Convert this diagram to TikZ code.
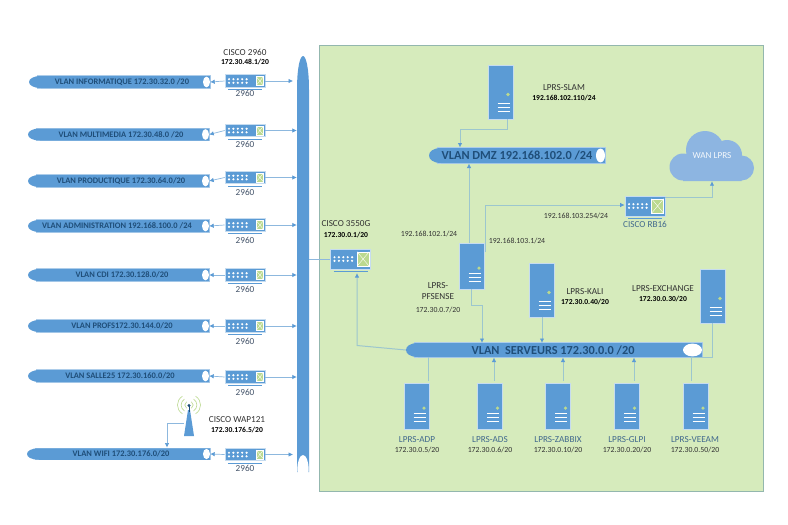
\documentclass[tikz,border=0pt]{standalone}
\usepackage{fontspec}
\setmainfont{Carlito}
\usetikzlibrary{arrows.meta,calc}
\definecolor{blu}{HTML}{5B9BD5}
\definecolor{dkb}{HTML}{1F4E79}
\definecolor{slat}{HTML}{44546A}
\definecolor{pan}{HTML}{D6EBBC}
\definecolor{panb}{HTML}{93B7AE}
\definecolor{lnk}{HTML}{9CC6CE}
\definecolor{lnkt}{HTML}{8DB8DE}
\definecolor{cld}{HTML}{8DB5E1}
\definecolor{grn}{HTML}{BBD98F}
\tikzset{
 x=1pt,y=-1pt,
 tip/.style={-{Latex[length=4.5pt,width=4.5pt,color=blu]}},
 lan/.style={draw=lnk,line width=1pt},
 lanthin/.style={draw=lnkt,line width=.7pt},
 lab/.style={font=\fontsize{7.8}{8}\selectfont,text=black!80,inner sep=0pt},
 labb/.style={font=\fontsize{7.6}{8}\bfseries\selectfont,text=black,inner sep=0pt},
 hostname/.style={font=\fontsize{9.2}{10}\selectfont,text=black!80,inner sep=0pt},
 hostblue/.style={font=\fontsize{9.2}{10}\selectfont,text=dkb!85,inner sep=0pt},
 swlab/.style={font=\fontsize{9.2}{10}\selectfont,text=slat,inner sep=0pt},
 vlanlab/.style={font=\fontsize{8.45}{9}\bfseries\selectfont,text=dkb,inner sep=0pt},
 bigvlan/.style={font=\fontsize{12.3}{13}\bfseries\selectfont,text=dkb,inner sep=0pt},
 frame/.style={fill=blu,draw=blu!35!white,line width=.6pt,inner sep=0pt},
}
% name, x1, x2, yc, h, text x, label style, text, notch x radius
\newcommand\vlanbus[9]{%
 \fill[blu!50!white] (#2+8,#4-#5/2-.7) rectangle (#3+1,#4+#5/2+.7);
 \fill[blu] (#3,#4-#5/2) -- (#2+12,#4-#5/2) .. controls (#2+4,#4-#5/2) and (#2,#4-#5/4) .. (#2,#4) .. controls (#2,#4+#5/4) and (#2+4,#4+#5/2) .. (#2+12,#4+#5/2) -- (#3,#4+#5/2) -- cycle;
 \fill[white] (#3-#9,#4) ellipse [x radius=#9,y radius=#5/2-.6];
 \node[minimum width=#3-#2,minimum height=#5,inner sep=0pt] (#1) at ({(#2+#3)/2},#4) {};
 \node[#7,anchor=center] (#1t) at (#6,#4) {#8};
}
% name, cx, cy, h
\newcommand\srv[4]{%
 \node[frame,minimum width=25,minimum height=#4] (#1) at (#2,#3) {};
 \fill[grn] ($(#1.south)+(7.5,-#4*.46)$) circle (1.8);
 \draw[white,line width=1pt] ($(#1.south)+(-3,-16)$) -- ($(#1.south)+(9,-16)$)
   ($(#1.south)+(-3,-12)$) -- ($(#1.south)+(9,-12)$)
   ($(#1.south)+(-3,-8)$) -- ($(#1.south)+(9,-8)$);
}
% name, cx, cy, h
\newcommand\swt[4]{%
 \node[frame,minimum width=40,minimum height=#4] (#1) at (#2,#3) {};
 \foreach \ix in {0,...,4} \foreach \iy in {-1.8,1.8}
  \fill[white] ($(#1.center)+(-16+\ix*4.4,\iy)$) circle (1.2);
 \fill[grn,draw=white,line width=.3pt] ($(#1.east)+(-1.7-#4*.6,-#4*.36)$) rectangle ($(#1.east)+(-1.7,#4*.36)$);
 \draw[white,line width=.4pt] ($(#1.east)+(-1.7-#4*.6,-#4*.36)$) -- ($(#1.east)+(-1.7,#4*.36)$)
   ($(#1.east)+(-1.7-#4*.6,#4*.36)$) -- ($(#1.east)+(-1.7,-#4*.36)$);
 \draw[blu,line width=.9pt] ($(#1.south)+(-17,2.2)$) -- ($(#1.south)+(17,2.2)$);
}
\begin{document}
\begin{tikzpicture}
\useasboundingbox (0,0) rectangle (788,525);
\fill[white] (0,0) rectangle (788,525);
\node[fill=pan,draw=panb,line width=.9pt,minimum width=444,minimum height=446,inner sep=0pt] (panel) at (541,268) {};

% vertical backbone
\fill[blu] (297,472) -- (297,90) .. controls (297,68) and (300,56) .. (303,56) .. controls (306,56) and (309,68) .. (309,90) -- (309,472) -- cycle;
\fill[white] (303,469) ellipse [x radius=5.6,y radius=14];
\node[minimum width=12,minimum height=416,inner sep=0pt] (vbus) at (303,264) {};

% left VLANs
\vlanbus{vI}{29}{210}{82}{12}{122}{vlanlab}{VLAN INFORMATIQUE 172.30.32.0 /20}{3.5}
\vlanbus{vM}{28}{209}{134.5}{12}{121}{vlanlab}{VLAN MULTIMEDIA 172.30.48.0 /20}{3.5}
\vlanbus{vP}{28}{209}{181}{12}{121}{vlanlab}{VLAN PRODUCTIQUE 172.30.64.0/20}{3.5}
\vlanbus{vA}{28}{209}{226}{12}{117}{vlanlab}{VLAN ADMINISTRATION 192.168.100.0 /24}{3.5}
\vlanbus{vC}{28}{209}{275}{12}{122}{vlanlab}{VLAN CDI 172.30.128.0/20}{3.5}
\vlanbus{vF}{28}{209}{326}{12}{122}{vlanlab}{VLAN PROFS172.30.144.0/20}{3.5}
\vlanbus{vS}{28}{209}{376}{12}{120}{vlanlab}{VLAN SALLE25 172.30.160.0/20}{3.5}
\vlanbus{vW}{27}{210}{454}{11.5}{121}{vlanlab}{VLAN WIFI 172.30.176.0/20}{3.5}

% left switches
\swt{s1}{245}{81}{12.5}
\swt{s2}{245}{130.5}{12.5}
\swt{s3}{245}{177.5}{12.5}
\swt{s4}{245}{225}{12.5}
\swt{s5}{245}{275}{12.5}
\swt{s6}{245}{326}{12.5}
\swt{s7}{245}{377}{12.5}
\swt{s8}{245}{454.5}{12.5}
\node[swlab] (t1) at (245,93.5) {2960};
\node[swlab] (t2) at (245,144.5) {2960};
\node[swlab] (t3) at (245,192.5) {2960};
\node[swlab] (t4) at (245,240) {2960};
\node[swlab] (t5) at (245,289.5) {2960};
\node[swlab] (t6) at (245,341) {2960};
\node[swlab] (t7) at (245,392) {2960};
\node[swlab] (t8) at (245,468) {2960};

\foreach \a/\b in {s1/vI,s2/vM,s3/vP,s4/vA,s5/vC,s6/vF,s7/vS,s8/vW}
  \draw[lanthin,tip] (\a.west) -- (\b.east);
\foreach \a in {s2,s3,s4,s5,s6,s7}
  \draw[lanthin,tip] (\a.east) -- (\a.east -| vbus.west);
\draw[lanthin,tip] (s1.east) -- (293,81);
\draw[lanthin,tip] (s8.east) -- (293,454.5);

\node[hostname] (c2960) at (245,52) {CISCO 2960};
\node[labb] (c2960ip) at (245,62) {172.30.48.1/20};

% WAP
\node[inner sep=0pt,minimum width=10,minimum height=31] (wap) at (189,420.5) {};
\foreach \r in {4,7.5,11}
  \draw[grn,line width=.6pt]
   (189-\r*.6,405-\r*.8) .. controls (189-\r*1.2,405-\r*.4) and (189-\r*1.2,405+\r*.4) .. (189-\r*.6,405+\r*.8)
   (189+\r*.6,405-\r*.8) .. controls (189+\r*1.2,405-\r*.4) and (189+\r*1.2,405+\r*.4) .. (189+\r*.6,405+\r*.8);
\fill[blu] (184,436) -- (188,410) -- (190,410) -- (194,436) -- cycle;
\draw[dkb,line width=.7pt] (189,405) -- (189,412);
\fill[dkb] (189,405.5) circle (1.6);
\node[hostname] (waplab) at (237,420) {CISCO WAP121};
\node[labb] (wapip) at (237,430) {172.30.176.5/20};
\draw[lanthin,tip] ($(wap.west)+(0,3)$) -| (167,447.5);

% 3550G
\swt{core}{350.5}{259}{20}
\node[hostname] (corelab) at (346,224) {CISCO 3550G};
\node[labb] (coreip) at (346,235) {172.30.0.1/20};
\draw[lanthin] (vbus.east |- core.west) -- (core.west);

% DMZ
\vlanbus{dmz}{429}{605}{155.5}{15}{517}{bigvlan}{VLAN DMZ 192.168.102.0 /24}{4.5}
\srv{slam}{500.5}{92}{54}
\node[hostname] (slamlab) at (564,88) {LPRS-SLAM};
\node[labb] (slamip) at (564,98) {192.168.102.110/24};
\draw[lan,tip] (507,119) -- (507,129) -- (460,129) -- (460,147.5);

% Cloud
\fill[cld] (683,167) circle (13.5) (705,150) circle (19) (727,155) circle (15) (741.5,168) circle (12.5);
\fill[cld] (683,160) rectangle (741.5,181) (700,145) rectangle (727,165);
\node[inner sep=0pt,minimum width=84,minimum height=50,font=\fontsize{9.2}{10}\selectfont,text=white!90!cld] (wan) at (712,156) {WAN LPRS};

% RB16
\swt{rb}{645}{206}{20}
\node[swlab,text=dkb!85] (rblab) at (645,224) {CISCO RB16};
\node[lab] (rbip) at (576,216) {192.168.103.254/24};
\draw[lan,tip] (665,197) -- (712,197) -- (wan.south);

% servers VLAN
\vlanbus{lan}{406}{702}{350}{14}{553}{bigvlan}{VLAN\ \ SERVEURS 172.30.0.0 /20}{9.5}

% PFSENSE
\srv{pf}{471.5}{266}{46}
\draw[lan,tip] (469,243) -- (469,163.5);
\draw[lan,tip] (485,252) -- (485,205) -- (rb.west |- 0,205);
\draw[lan,tip] (471,289) -- (471,305) -- (482,305) -- (482,343);
\node[lab] (pfa) at (429,234) {192.168.102.1/24};
\node[lab] (pfb) at (517,241) {192.168.103.1/24};
\node[hostname] (pfn1) at (438,286) {LPRS-};
\node[hostname] (pfn2) at (438,297) {PFSENSE};
\node[lab] (pfip) at (438,310) {172.30.0.7/20};
\draw[lan,tip] (lan.west) -- (357,345.5) -- (357,273);

% Kali
\srv{kali}{541.5}{290}{54}
\node[hostname] (kalilab) at (585,292) {LPRS-KALI};
\node[labb] (kaliip) at (585,302) {172.30.0.40/20};
\draw[lan,tip] (542,317) -- (542,343);

% Exchange
\srv{exch}{712.5}{296}{54}
\node[hostname] (exlab) at (663,289) {LPRS-EXCHANGE};
\node[labb] (exip) at (663,299) {172.30.0.30/20};
\draw[lan] (712,323) -- (712,357) -- (690,357);

% bottom servers
\srv{adp}{416.5}{406}{46}
\srv{ads}{490}{406}{46}
\srv{zab}{558}{406}{46}
\srv{glpi}{627}{406}{46}
\srv{veeam}{695.5}{406}{46}
\draw[lan] (428,381) -- (428,357);
\draw[lan,tip] (494,381) -- (494,357.5);
\draw[lan,tip] (563,381) -- (563,357.5);
\draw[lan,tip] (634,381) -- (634,357.5);
\draw[lan] (691,381) -- (691,357);
\node[hostblue] (adpn) at (417,440) {LPRS-ADP};
\node[hostblue] (adsn) at (490,440) {LPRS-ADS};
\node[hostblue] (zabn) at (558,440) {LPRS-ZABBIX};
\node[hostblue] (glpin) at (627,440) {LPRS-GLPI};
\node[hostblue] (veeamn) at (695,440) {LPRS-VEEAM};
\node[lab] (adpi) at (417,450) {172.30.0.5/20};
\node[lab] (adsi) at (490,450) {172.30.0.6/20};
\node[lab] (zabi) at (558,450) {172.30.0.10/20};
\node[lab] (glpii) at (627,450) {172.30.0.20/20};
\node[lab] (veeami) at (695,450) {172.30.0.50/20};
\end{tikzpicture}
\end{document}
